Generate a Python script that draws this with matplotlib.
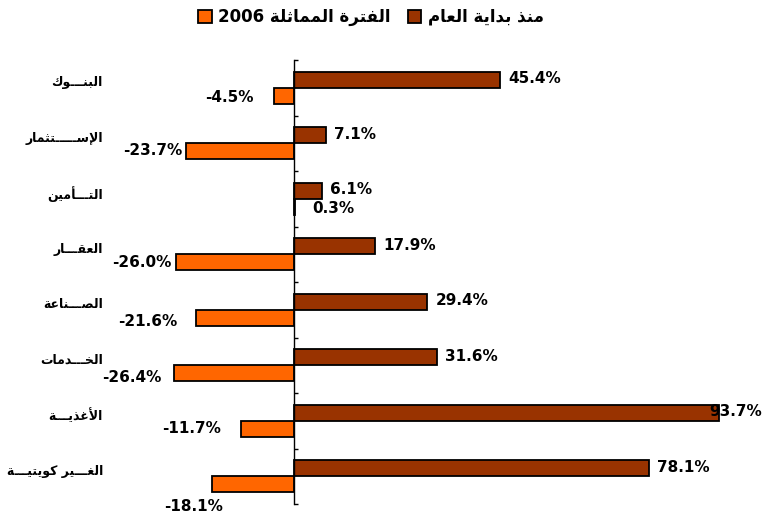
import numpy as np
import matplotlib.pyplot as plt
from matplotlib.patches import Patch

# =========================
# DATA
# =========================
sectors = ["البنـــوك", "الإســـــتثمار", "التـــأمين", "العقـــار",
           "الصـــناعة", "الخـــدمات", "الأغذيـــة", "الغـــير كويتيـــة"]
ytd = [45.4, 7.1, 6.1, 17.9, 29.4, 31.6, 93.7, 78.1]
same_2006 = [-4.5, -23.7, 0.3, -26.0, -21.6, -26.4, -11.7, -18.1]

legend_ytd = "منذ بداية العام"
legend_2006 = "الفترة المماثلة"
year = "2006"

# label nudges for the 2006 values (pixels)
lbl_dx = [-20, -4, 17, -4, -19, -13, -20, 11]
lbl_dy = [2, -1, 2, 0, 4, 4, 0, 22]

BROWN = "#993300"
ORANGE = "#FF6600"

# =========================
# ARABIC SHAPING (matplotlib draws no joined forms by itself)
# =========================
_seq = [("ء", 1), ("آ", 2), ("أ", 2), ("ؤ", 2), ("إ", 2), ("ئ", 4), ("ا", 2),
        ("ب", 4), ("ة", 2), ("ت", 4), ("ث", 4), ("ج", 4), ("ح", 4), ("خ", 4),
        ("د", 2), ("ذ", 2), ("ر", 2), ("ز", 2), ("س", 4), ("ش", 4), ("ص", 4),
        ("ض", 4), ("ط", 4), ("ظ", 4), ("ع", 4), ("غ", 4), ("ف", 4), ("ق", 4),
        ("ك", 4), ("ل", 4), ("م", 4), ("ن", 4), ("ه", 4), ("و", 2), ("ى", 2),
        ("ي", 4)]
FORMS = {}
code = 0xFE80
for ch, n in _seq:
    FORMS[ch] = [chr(code + k) for k in range(n)]
    code += n
LAM_ALEF = {"آ": ("\uFEF5", "\uFEF6"), "أ": ("\uFEF7", "\uFEF8"),
            "إ": ("\uFEF9", "\uFEFA"), "ا": ("\uFEFB", "\uFEFC")}
TATWEEL = "\u0640"


def is_ar(c):
    return c in FORMS or c == TATWEEL


def joins_next(c):
    return c == TATWEEL or (c in FORMS and len(FORMS[c]) == 4)


def shape(text):
    out = []
    i = 0
    n = len(text)
    while i < n:
        c = text[i]
        jp = i > 0 and joins_next(text[i - 1])
        if c == "ل" and i + 1 < n and text[i + 1] in LAM_ALEF:
            iso, fin = LAM_ALEF[text[i + 1]]
            out.append(fin if jp else iso)
            i += 2
            continue
        if c in FORMS:
            f = FORMS[c]
            jn = len(f) == 4 and i + 1 < n and is_ar(text[i + 1])
            if len(f) == 1:
                out.append(f[0])
            elif jp and jn:
                out.append(f[3])
            elif jp:
                out.append(f[1])
            elif jn:
                out.append(f[2])
            else:
                out.append(f[0])
        else:
            out.append(c)
        i += 1
    return "".join(reversed(out))


# =========================
# PLOT
# =========================
plt.rcParams["font.family"] = ["DejaVu Sans"]
plt.rcParams["font.weight"] = "bold"

fig = plt.figure(figsize=(7.62, 5.17), dpi=100)
W, H = 762, 517
px_per = 4.54
x0 = 294
xmin, xmax = -30, (W - x0) / px_per
ax = fig.add_axes([(x0 + xmin * px_per) / W, (H - 504) / H,
                   (xmax - xmin) * px_per / W, (504 - 60) / H])

y = np.arange(len(sectors))
h = 0.29
ax.barh(y - h / 2, ytd, height=h, color=BROWN, edgecolor="black", linewidth=1.3)
ax.barh(y + h / 2, same_2006, height=h, color=ORANGE, edgecolor="black", linewidth=1.3)

ax.set_xlim(xmin, xmax)
ax.set_ylim(len(sectors) - 0.5, -0.5)

for s in ["top", "right", "bottom"]:
    ax.spines[s].set_visible(False)
ax.spines["left"].set_position(("data", 0))
ax.spines["left"].set_linewidth(1.0)
ax.set_xticks([])
ax.set_yticks(np.arange(len(sectors) + 1) - 0.5)
ax.set_yticklabels([])
ax.tick_params(axis="y", direction="in", length=3, width=1.0)

# sector names on the far left
for i, name in enumerate(sectors):
    ax.annotate(shape(name), xy=(0, i), xycoords=("figure fraction", "data"),
                xytext=(103, 5), textcoords="offset pixels",
                ha="right", va="center", fontsize=9, fontweight="bold")

# value labels
for i, v in enumerate(ytd):
    txt = f"{v:.1f}%"
    if v + 14 > xmax:
        ax.annotate(txt, xy=(xmax, i - h / 2), xytext=(0, 1), textcoords="offset pixels",
                    ha="right", va="center", fontsize=11, fontweight="bold")
    else:
        ax.annotate(txt, xy=(v, i - h / 2), xytext=(8, 1), textcoords="offset pixels",
                    ha="left", va="center", fontsize=11, fontweight="bold")

for i, v in enumerate(same_2006):
    txt = f"{v:.1f}%"
    ax.annotate(txt, xy=(v, i + h / 2), xytext=(lbl_dx[i], -lbl_dy[i]),
                textcoords="offset pixels", ha="left" if v > 0 else "right",
                va="center", fontsize=11, fontweight="bold")

handles = [Patch(facecolor=ORANGE, edgecolor="black", linewidth=1.3),
           Patch(facecolor=BROWN, edgecolor="black", linewidth=1.3)]
labels = [year + " " + shape(legend_2006), shape(legend_ytd)]
fig.legend(handles, labels, loc="center", bbox_to_anchor=(371 / W, 1 - 17 / H),
           ncol=2, frameon=False, prop={"weight": "bold", "size": 12},
           handlelength=0.8, handleheight=0.8, handletextpad=0.4, columnspacing=1.0)

fig.savefig("out.png", dpi=100)
